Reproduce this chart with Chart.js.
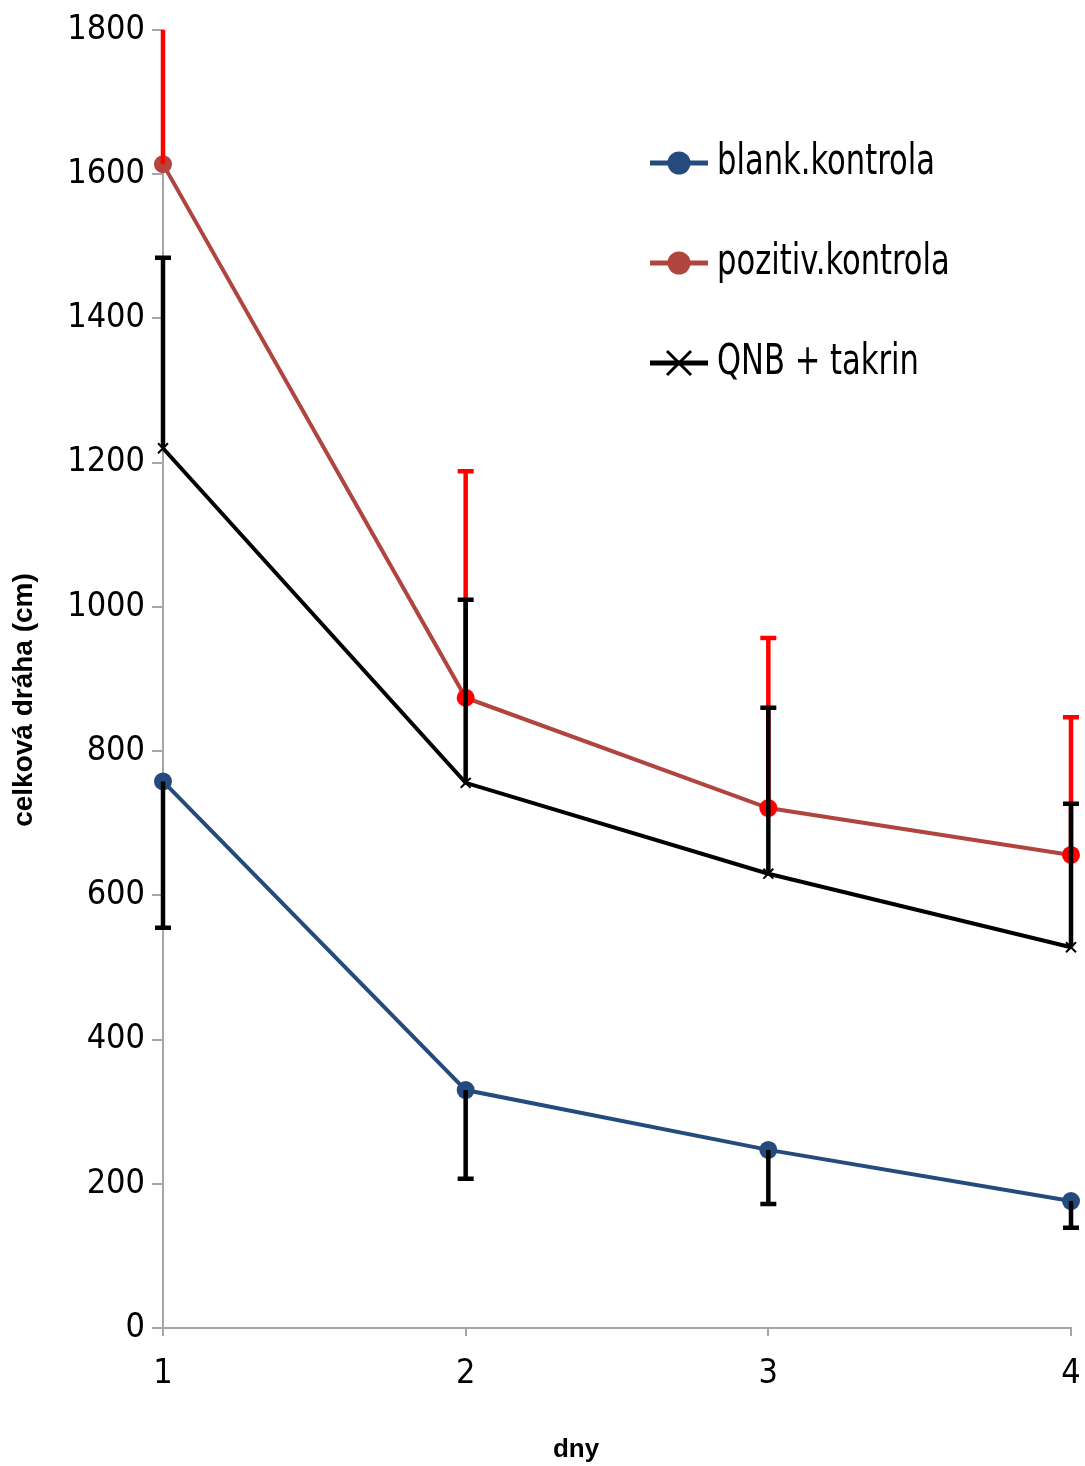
<!DOCTYPE html>
<html lang="cs">
  <head>
    <meta charset="UTF-8" />
    <title>celková dráha</title>
    <script src="https://cdn.jsdelivr.net/npm/chart.js"></script>
    <style>
      html, body { margin: 0; padding: 0; background: #fff; }
      #chart-container { width: 1085px; height: 1466px; }
    </style>
  </head>
  <body>
    <div id="chart-container">
      <canvas id="my-chart" width="1085" height="1466"></canvas>
    </div>

    <script>
      const days = ["1", "2", "3", "4"];

      const blank = [758, 330, 247, 176];
      const blankErrMinus = [203, 123, 75, 37];

      const pozitiv = [1614, 874, 721, 656];
      const pozitivErrPlus = [230, 314, 236, 191];

      const qnb = [1220, 756, 630, 528];
      const qnbErrPlus = [264, 254, 230, 199];

      const yMin = 0;
      const yMax = 1800;
      const yStep = 200;

      const xTitle = "dny";
      const yTitle = "celková dráha (cm)";

      const narrow = "'Liberation Sans Narrow', 'DejaVu Sans Condensed', sans-serif";
      const bold = "'Liberation Sans', Arial, sans-serif";

      // one-sided error bars, drawn on top of the lines
      const errorBars = {
        id: "errorBars",
        afterDatasetsDraw(chart) {
          const ctx = chart.ctx;
          const area = chart.chartArea;
          const yScale = chart.scales.y;
          ctx.save();
          ctx.beginPath();
          ctx.rect(area.left - 20, area.top, area.right - area.left + 40, area.bottom - area.top);
          ctx.clip();
          chart.data.datasets.forEach((ds, i) => {
            if (!ds.errors) return;
            const meta = chart.getDatasetMeta(i);
            ctx.strokeStyle = ds.errorColor;
            ctx.lineWidth = 4.5;
            meta.data.forEach((pt, j) => {
              const v = ds.data[j];
              const end = v + ds.errorDir * ds.errors[j];
              const y0 = yScale.getPixelForValue(v);
              const y1 = yScale.getPixelForValue(end);
              ctx.beginPath();
              ctx.moveTo(pt.x, y0);
              ctx.lineTo(pt.x, y1);
              ctx.moveTo(pt.x - 8, y1);
              ctx.lineTo(pt.x + 8, y1);
              ctx.stroke();
            });
          });
          ctx.restore();
        },
      };

      // legend with line + marker inside the plot, plus both axis titles
      const decorations = {
        id: "decorations",
        afterDraw(chart) {
          const ctx = chart.ctx;
          const x0 = 650, x1 = 708, tx = 717;
          const rows = [163, 263, 363];
          ctx.save();
          chart.data.datasets.forEach((ds, i) => {
            const y = rows[i];
            ctx.strokeStyle = ds.borderColor;
            ctx.lineWidth = 5;
            ctx.beginPath();
            ctx.moveTo(x0, y);
            ctx.lineTo(x1, y);
            ctx.stroke();
            const mx = (x0 + x1) / 2;
            if (ds.pointStyle === "crossRot") {
              ctx.lineWidth = 3;
              ctx.beginPath();
              ctx.moveTo(mx - 12, y - 12);
              ctx.lineTo(mx + 12, y + 12);
              ctx.moveTo(mx - 12, y + 12);
              ctx.lineTo(mx + 12, y - 12);
              ctx.stroke();
            } else {
              ctx.fillStyle = ds.borderColor;
              ctx.beginPath();
              ctx.arc(mx, y, 11.5, 0, Math.PI * 2);
              ctx.fill();
            }
            ctx.save();
            ctx.translate(tx, y);
            ctx.scale(0.81, 1);
            ctx.fillStyle = "#000";
            ctx.font = "42px " + narrow;
            ctx.textBaseline = "middle";
            ctx.textAlign = "left";
            ctx.fillText(ds.label, 0, 0);
            ctx.restore();
          });

          ctx.fillStyle = "#000";
          ctx.font = "bold 26px " + bold;
          ctx.textAlign = "center";
          ctx.textBaseline = "middle";
          ctx.fillText(xTitle, 576, 1450);

          ctx.translate(24, 700);
          ctx.rotate(-Math.PI / 2);
          ctx.font = "bold 28px " + bold;
          ctx.fillText(yTitle, 0, 0);
          ctx.restore();
        },
      };

      const ctx = document.getElementById("my-chart").getContext("2d");
      const myChart = new Chart(ctx, {
        type: "line",
        data: {
          labels: days,
          datasets: [
            {
              label: "blank.kontrola",
              data: blank,
              borderColor: "#254B7E",
              backgroundColor: "#254B7E",
              pointBackgroundColor: "#254B7E",
              pointBorderWidth: 0,
              pointRadius: 9,
              borderWidth: 4,
              errors: blankErrMinus,
              errorDir: -1,
              errorColor: "#000",
              clip: false,
              order: 2,
            },
            {
              label: "pozitiv.kontrola",
              data: pozitiv,
              borderColor: "#B0443F",
              backgroundColor: "#B0443F",
              pointBackgroundColor: ["#B5443F", "#FF0000", "#FF0000", "#FF0000"],
              pointBorderWidth: 0,
              pointRadius: 9,
              borderWidth: 4,
              errors: pozitivErrPlus,
              errorDir: 1,
              errorColor: "#FF0000",
              clip: false,
              order: 1,
            },
            {
              label: "QNB + takrin",
              data: qnb,
              borderColor: "#000",
              backgroundColor: "#000",
              pointStyle: "crossRot",
              pointRadius: 7,
              pointBorderWidth: 2,
              borderWidth: 4,
              errors: qnbErrPlus,
              errorDir: 1,
              errorColor: "#000",
              clip: false,
              order: 0,
            },
          ],
        },
        options: {
          responsive: false,
          animation: false,
          layout: { padding: { top: 30, right: 14, left: 0, bottom: 0 } },
          plugins: {
            legend: { display: false },
            tooltip: { enabled: false },
          },
          scales: {
            x: {
              offset: false,
              grid: {
                drawOnChartArea: false,
                color: "#A6A6A6",
                lineWidth: 2,
                tickLength: 8,
              },
              border: { color: "#A6A6A6", width: 2 },
              ticks: {
                color: "#000",
                font: { family: narrow, size: 34 },
                padding: 18,
                maxRotation: 0,
              },
              afterFit(scale) {
                scale.height = 138;
                scale.paddingLeft = 0;
                scale.paddingRight = 0;
              },
            },
            y: {
              min: yMin,
              max: yMax,
              grid: {
                drawOnChartArea: false,
                color: "#A6A6A6",
                lineWidth: 2,
                tickLength: 11,
              },
              border: { color: "#A6A6A6", width: 2 },
              ticks: {
                stepSize: yStep,
                color: "#000",
                font: { family: narrow, size: 34 },
                padding: 7,
                callback: (value) => String(value),
              },
              afterFit(scale) {
                scale.width = 163;
                scale.paddingTop = 0;
                scale.paddingBottom = 0;
              },
            },
          },
        },
        plugins: [errorBars, decorations],
      });
    </script>
  </body>
</html>
